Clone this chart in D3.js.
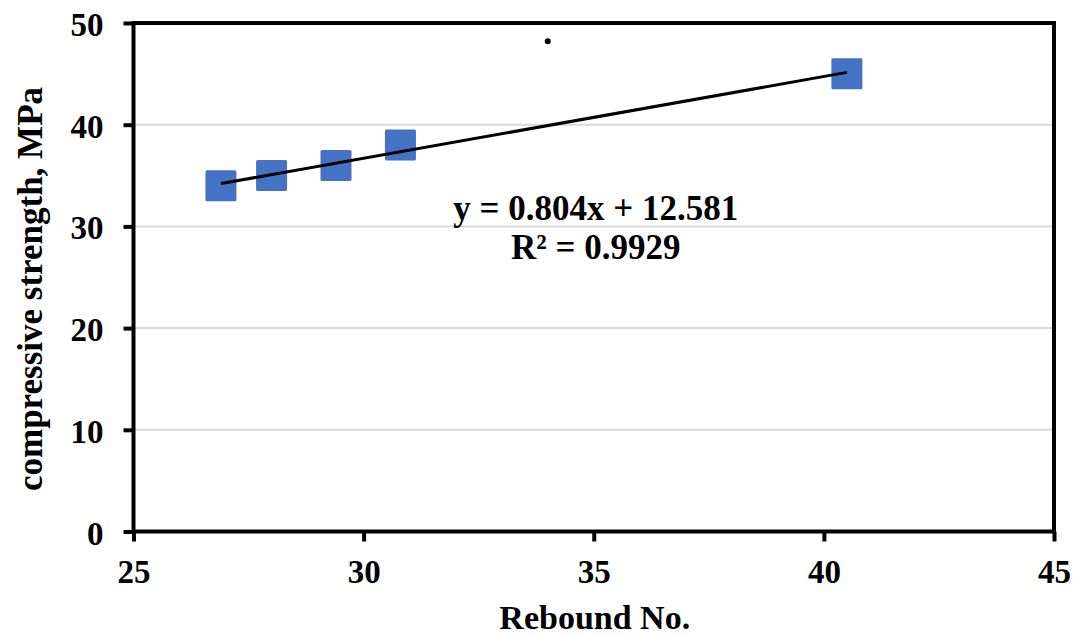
<!DOCTYPE html>
<html>
<head>
<meta charset="utf-8">
<script src="https://cdn.jsdelivr.net/npm/d3@7"></script>
<style>
  body { margin: 0; background: #fff; }
  text { font-family: "Liberation Serif", "Times New Roman", serif; font-weight: bold; fill: #000; }
</style>
</head>
<body>
<svg id="chart" width="1073" height="636"></svg>
<script>
// Data
const rebound = [26.9, 28.0, 29.4, 30.8, 40.5];
const strength = [34.0, 35.0, 36.0, 38.0, 45.0];
const strayDot = [34.0, 48.2];
const slope = 0.804;
const intercept = 12.581;
const rSquared = 0.9929;
const xTicks = [25, 30, 35, 40, 45];
const yTicks = [0, 10, 20, 30, 40, 50];

const margin = {top: 23, right: 19, bottom: 104.5, left: 133.5};
const W = 1073, H = 636;
const width = W - margin.left - margin.right;
const height = H - margin.top - margin.bottom;

const svg = d3.select('#chart');
const g = svg.append('g').attr('transform', `translate(${margin.left},${margin.top})`);

const x = d3.scaleLinear().domain([25, 45]).range([0, width]);
const y = d3.scaleLinear().domain([0, 50]).range([height, 0]);

// gridlines
g.append('g')
  .selectAll('line')
  .data(yTicks.filter(d => d > 0 && d < 50))
  .enter().append('line')
  .attr('x1', 0).attr('x2', width)
  .attr('y1', d => y(d)).attr('y2', d => y(d))
  .attr('stroke', '#d9d9d9').attr('stroke-width', 2);

// axes
const xAxis = g.append('g')
  .attr('transform', `translate(0,${height})`)
  .call(d3.axisBottom(x).tickValues(xTicks).tickSize(10).tickPadding(18));
const yAxis = g.append('g')
  .call(d3.axisLeft(y).tickValues(yTicks).tickSize(10).tickPadding(20));

[xAxis, yAxis].forEach(a => {
  a.select('.domain').remove();
  a.selectAll('.tick line').attr('stroke', '#000').attr('stroke-width', 4);
  a.selectAll('.tick text')
    .attr('font-size', '33px')
    .attr('font-family', '"Liberation Serif", "Times New Roman", serif')
    .attr('font-weight', 'bold')
    .attr('fill', '#000');
});
yAxis.selectAll('.tick text').attr('dy', '0.38em');

// frame
g.append('rect')
  .attr('x', 0).attr('y', 0)
  .attr('width', width).attr('height', height)
  .attr('fill', 'none')
  .attr('stroke', '#000').attr('stroke-width', 4);

// markers
const pts = rebound.map((r, i) => ({r, s: strength[i]}));
const size = 31;
g.append('g')
  .selectAll('rect')
  .data(pts)
  .enter().append('rect')
  .attr('x', d => x(d.r) - size / 2)
  .attr('y', d => y(d.s) - size / 2)
  .attr('width', size).attr('height', size)
  .attr('rx', 1.5)
  .attr('fill', '#4472c4');

// linear trendline over the data range
const x0 = d3.min(rebound), x1 = d3.max(rebound);
g.append('line')
  .attr('x1', x(x0)).attr('y1', y(slope * x0 + intercept))
  .attr('x2', x(x1)).attr('y2', y(slope * x1 + intercept))
  .attr('stroke', '#000').attr('stroke-width', 3);

// stray dot
g.append('circle')
  .attr('cx', x(strayDot[0])).attr('cy', y(strayDot[1]))
  .attr('r', 3).attr('fill', '#000');

// equation label
const eqX = x(35.0) + 2;
const eq = g.append('text')
  .attr('text-anchor', 'middle')
  .attr('font-size', '35px');
eq.append('tspan').attr('x', eqX).attr('y', y(30.6))
  .text(`y = ${slope}x + ${intercept}`);
eq.append('tspan').attr('x', eqX).attr('y', y(26.8))
  .text(`R² = ${rSquared}`);

// axis titles
svg.append('text')
  .attr('x', margin.left + width / 2 + 1)
  .attr('y', 629)
  .attr('text-anchor', 'middle')
  .attr('font-size', '34px')
  .text('Rebound No.');

svg.append('text')
  .attr('transform', 'translate(42,289) rotate(-90)')
  .attr('text-anchor', 'middle')
  .attr('font-size', '35px')
  .text('compressive strength, MPa');
</script>
</body>
</html>
